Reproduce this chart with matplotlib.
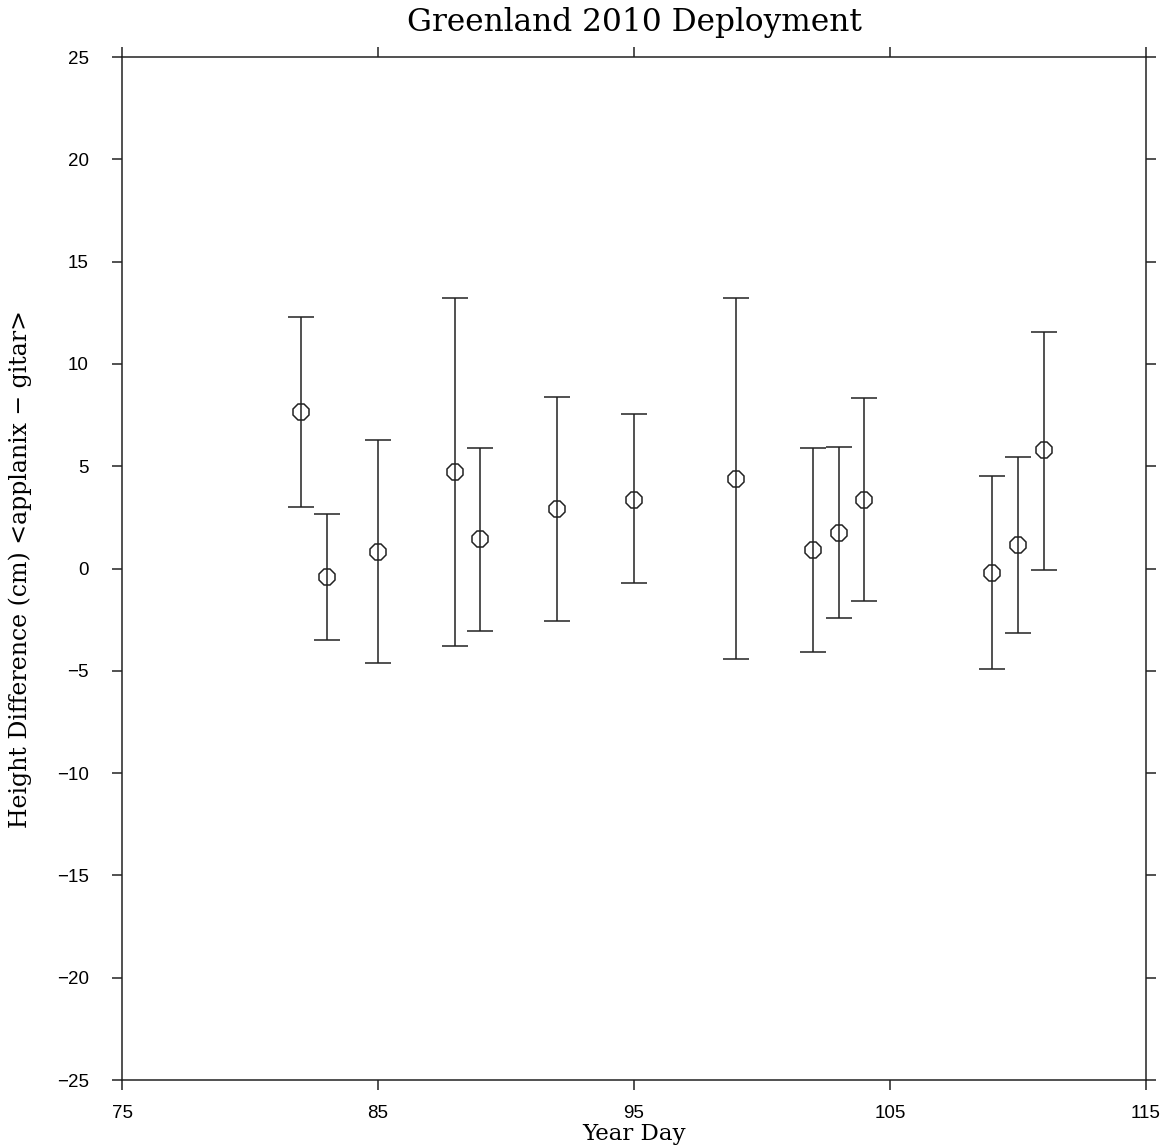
import numpy as np
import matplotlib.pyplot as plt

# year day, mean height difference (cm), error bar top / bottom
days = [82, 83, 85, 88, 89, 92, 95, 99, 102, 103, 104, 109, 110, 111]
diff = [7.67, -0.4, 0.83, 4.7, 1.42, 2.93, 3.37, 4.4, 0.93, 1.76, 3.37, -0.2, 1.17, 5.77]
upper = [12.3, 2.65, 6.3, 13.2, 5.87, 8.38, 7.53, 13.2, 5.91, 5.96, 8.36, 4.5, 5.43, 11.58]
lower = [3.0, -3.47, -4.6, -3.8, -3.03, -2.54, -0.73, -4.4, -4.1, -2.44, -1.61, -4.89, -3.13, -0.05]


def draw():
    fig = plt.figure(figsize=(11.69, 11.48), dpi=100)
    ax = fig.add_axes([0.1044, 0.0592, 0.8759, 0.8911])

    x = np.array(days)
    y = np.array(diff)
    yerr = [y - np.array(lower), np.array(upper) - y]
    ax.errorbar(x, y, yerr=yerr, fmt='8', ms=13, mfc='none', mec='#222222', mew=1.1,
                ecolor='#222222', elinewidth=1.1, capsize=9.4, capthick=1.1)

    ax.set_xlim(75, 115)
    ax.set_ylim(-25, 25)
    ax.set_xticks([75, 85, 95, 105, 115])
    ax.set_yticks(np.arange(-25, 26, 5))
    ax.tick_params(direction='out', length=7, width=1.1, top=True, right=True,
                   labelsize=13.5, color='#222222')
    ax.tick_params(axis='x', pad=11)
    ax.tick_params(axis='y', pad=17)
    for s in ax.spines.values():
        s.set_linewidth(1.1)
        s.set_color('#222222')
    for lab in ax.get_xticklabels() + ax.get_yticklabels():
        lab.set_family('Liberation Sans')

    ax.set_title('Greenland 2010 Deployment', fontsize=22.5, family='DejaVu Serif', pad=19)
    ax.set_xlabel('Year Day', fontsize=16.5, family='DejaVu Serif', labelpad=1)
    ax.set_ylabel('Height Difference (cm) <applanix \u2212 gitar>', fontsize=17,
                  family='DejaVu Serif', labelpad=18)

    fig.savefig('out.png', dpi=100)


if __name__ == '__main__':
    draw()
